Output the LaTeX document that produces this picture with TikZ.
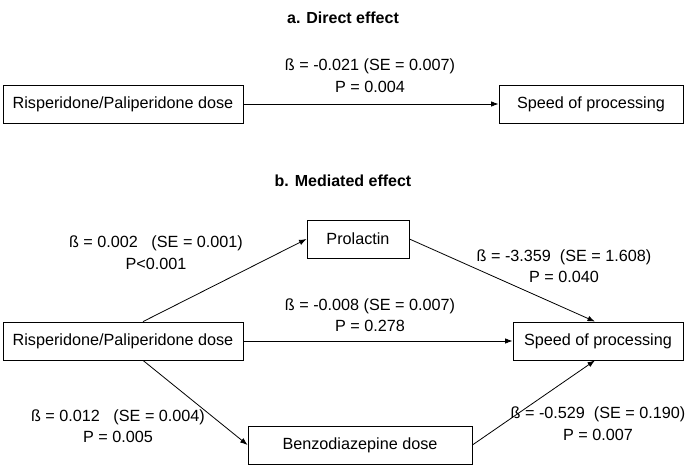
\documentclass[tikz,border=0pt]{standalone}
\usepackage{fontspec}
\setmainfont{Liberation Sans}
\usetikzlibrary{arrows.meta}
\begin{document}
\begin{tikzpicture}[x=1pt,y=-1pt,
  box/.style={draw,line width=0.8pt,minimum height=38pt,inner sep=0pt,font=\fontsize{16.2}{19}\selectfont},
  lbl/.style={align=center,inner sep=0pt,font=\fontsize{16.2}{21.5}\selectfont},
  ttl/.style={inner sep=0pt,font=\fontsize{16}{19}\selectfont\bfseries},
  arr/.style={line width=0.8pt,-{Latex[length=7.5pt,width=5.5pt]}}]
\useasboundingbox (0,0) rectangle (686,468);
\node[ttl] (ta) at (343,18) {a. Direct effect};
\node[box,minimum width=240pt] (A1) at (123,104) {Risperidone/Paliperidone dose};
\node[box,minimum width=184pt] (A2) at (591,104) {Speed of processing};
\draw[arr] (A1.east) -- (A2.west);
\node[lbl] (la) at (370,75.5) {ß = -0.021 (SE = 0.007)\\P = 0.004};

\node[ttl] (tb) at (343,181) {b. Mediated effect};
\node[box,minimum width=102pt] (P) at (358,239) {Prolactin};
\node[box,minimum width=240pt] (L) at (123,341) {Risperidone/Paliperidone dose};
\node[box,minimum width=170pt] (S) at (598,341) {Speed of processing};
\node[box,minimum width=224pt] (B) at (360,445) {Benzodiazepine dose};
\draw[arr] ([xshift=20pt]L.north) -- (P.west);
\draw[arr] ([xshift=20pt]L.south) -- (B.west);
\draw[arr] (L.east) -- (S.west);
\draw[arr] (P.east) -- ([xshift=-3pt]S.north);
\draw[arr] (B.east) -- ([xshift=-3pt]S.south);
\node[lbl] (l1) at (156,252.5) {ß = 0.002\ \ \ (SE = 0.001)\\P<0.001};
\node[lbl] (l2) at (370,315) {ß = -0.008 (SE = 0.007)\\P = 0.278};
\node[lbl] (l3) at (564,266) {ß = -3.359\ \ (SE = 1.608)\\P = 0.040};
\node[lbl] (l4) at (118,426) {ß = 0.012\ \ \ (SE = 0.004)\\P = 0.005};
\node[lbl] (l5) at (598,423.5) {ß = -0.529\ \ (SE = 0.190)\\P = 0.007};
\end{tikzpicture}
\end{document}
